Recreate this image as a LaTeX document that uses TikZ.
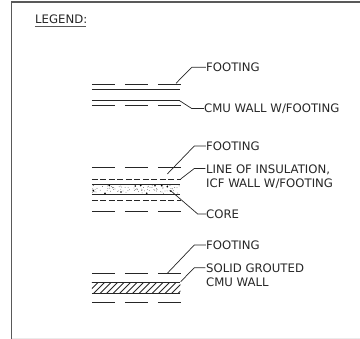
\documentclass[tikz,border=0pt]{standalone}
\usepackage{fontspec}
\setmainfont{DejaVu Sans}
\usetikzlibrary{positioning,calc}

\begin{document}
\begin{tikzpicture}[
    x=1pt, y=-1pt,
    inkcol/.style={draw=black!85},
    label/.style={anchor=west, align=left, inner sep=0pt, font=\fontsize{11.7}{14}\selectfont, text=black!85},
    wall/.style={inkcol, line width=0.9pt},
    footing/.style={inkcol, line width=0.9pt, dash pattern=on 22.6pt off 10.4pt},
    insul/.style={inkcol, line width=0.9pt, dash pattern=on 6pt off 2.5pt},
    leader/.style={inkcol, line width=0.7pt}
]
\useasboundingbox (0,0) rectangle (360,339);

% Sheet border
\draw[black!65, line width=1.4pt] (360,2) -- (11.5,2) -- (11.5,339);
\draw[black!8, line width=0.8pt] (12,338.2) -- (360,338.2);

% Heading
\node[label] (legend) at (35,19.5) {LEGEND:};
\draw[black!65, line width=1pt] (legend.south west) ++(0,2.5) -- ++(51.5,0);

% Labels
\node[label] (foot1) at (206,67.3) {FOOTING};
\node[label] (cmu) at (204,108.5) {CMU WALL W/FOOTING};
\node[label] (foot2) at (206,146) {FOOTING};
\node[label] (icf) at (206,176.3) {LINE OF INSULATION,\\ICF WALL W/FOOTING};
\node[label] (core) at (206,214) {CORE};
\node[label] (foot3) at (206,245) {FOOTING};
\node[label] (solid) at (206,275.2) {SOLID GROUTED\\CMU WALL};

% CMU wall with footing
\draw[footing] (92,84) -- (181,84);
\draw[wall] (92,89) -- (180.5,89);
\draw[wall] (92,100.5) -- (180.5,100.5);
\draw[footing] (92,105.5) -- (181,105.5);

% ICF wall with footing
\draw[footing] (92,167.5) -- (181,167.5);
\draw[insul] (92,179) -- (181,179);
\draw[wall] (92,184) -- (180.5,184);
\draw[wall] (92,194.7) -- (180.5,194.7);
\draw[insul] (92,200.5) -- (181,200.5);
\draw[footing] (92,211.5) -- (181,211.5);

% Core stipple
\pgfmathsetseed{11}
\foreach \i in {1,...,80}
    \fill[black!70] ({92+88*rnd},{185.5+8*rnd}) circle (0.4);
\foreach \px/\py in {93.3/190.7, 109.3/185.6, 105/193.6, 121/192, 135.3/186, 140.7/185.6, 146.7/193.3, 155/185.8, 161.7/185.6, 167.3/186.7, 170.7/191}
    \fill[black] (\px,\py) circle (0.9);

% Solid grouted wall
\draw[footing] (92,273.5) -- (181,273.5);
\begin{scope}
    \clip (92,282.5) rectangle (180.5,293.5);
    \foreach \hx in {80,86.5,...,185}
        \draw[inkcol, line width=0.8pt] (\hx,294) -- ++(12,-12);
\end{scope}
\draw[wall] (92,282.5) -- (180.5,282.5);
\draw[wall] (92,293.5) -- (180.5,293.5);
\draw[footing] (92,302.7) -- (181,302.7);

% Leaders
\draw[leader] (176,83.3) -- (191.7,67.3) -- (foot1.west);
\draw[leader] (179.3,100.5) -- (191.7,108.5) -- (cmu.west);
\draw[leader] (167.3,174) -- (194.3,146) -- (foot2.west);
\draw[leader] (180.7,179) -- (194.3,168.5) -- (205.5,168.5);
\draw[leader] (170.7,190.7) -- (197.7,214) -- (core.west);
\draw[leader] (167.3,273.3) -- (194.3,245) -- (foot3.west);
\draw[leader] (180.7,281.7) -- (194.3,267.7) -- (205.5,267.7);

\end{tikzpicture}
\end{document}
